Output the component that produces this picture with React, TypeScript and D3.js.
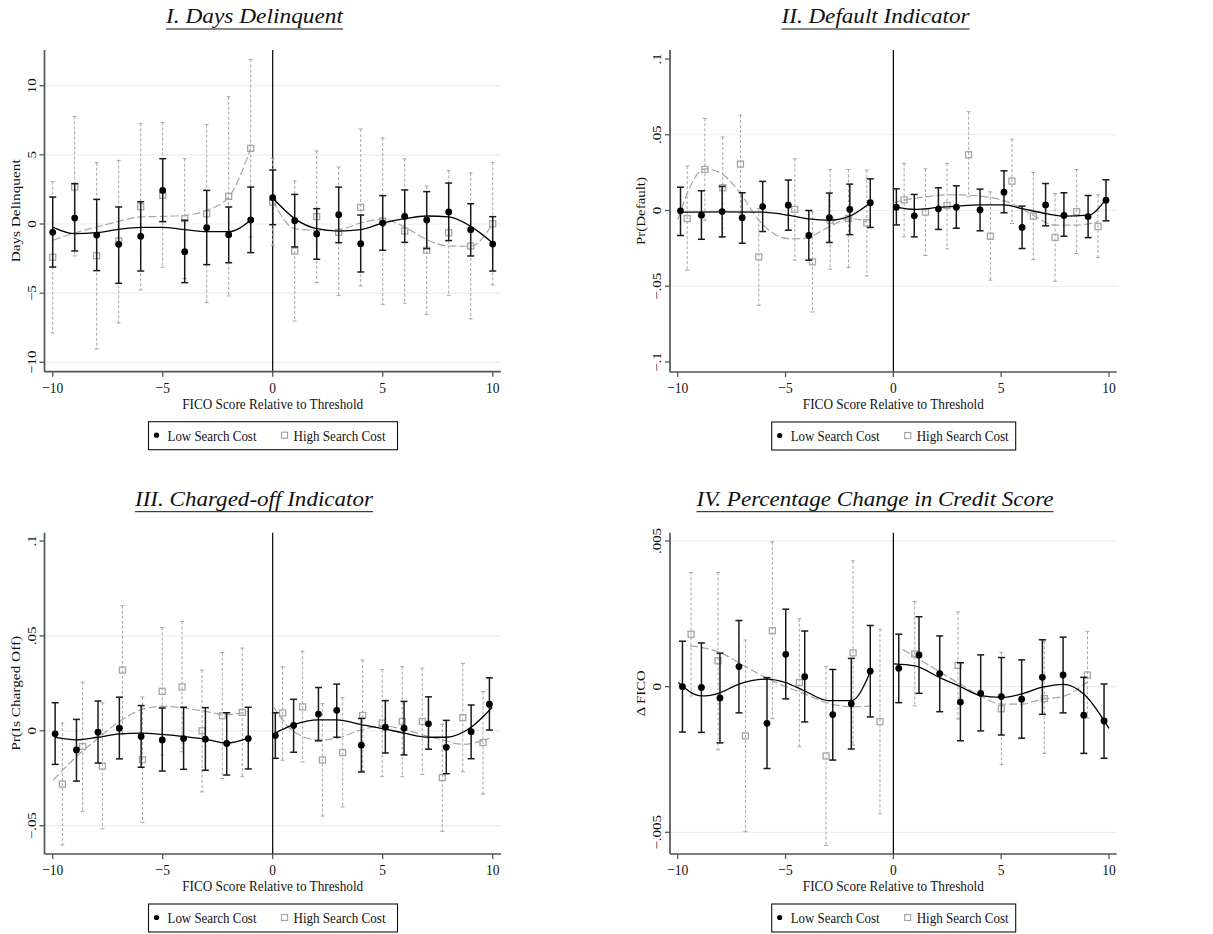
import React from "react";
import * as d3 from "d3";

type Pt = [number, number];

// ---------- shared ----------
const xTicks = [-10, -5, 0, 5, 10];
const xTickLabels = ["\u221210", "\u22125", "0", "5", "10"];
const legendLabels = ["Low Search Cost", "High Search Cost"];

// ---------- Panel I: Days Delinquent ----------
const p1Ticks = [-10, -5, 0, 5, 10];
const p1TickLabels = ["\u221210", "\u22125", "0", "5", "10"];
const p1Grid = [-10, -5, 0, 5, 10];
const p1LowX = [-10, -9, -8, -7, -6, -5, -4, -3, -2, -1, 0, 1, 2, 3, 4, 5, 6, 7, 8, 9, 10];
const p1LowY = [-0.6, 0.43, -0.8, -1.47, -0.89, 2.43, -2.0, -0.27, -0.77, 0.29, 1.9, 0.24, -0.72, 0.67, -1.42, 0.07, 0.55, 0.29, 0.87, -0.41, -1.45];
const p1LowHi = [1.95, 2.92, 1.78, 1.23, 1.61, 4.72, 0.27, 2.43, 1.23, 2.67, 3.9, 2.14, 1.11, 2.67, 0.65, 2.05, 2.46, 2.34, 2.96, 1.47, 0.53];
const p1LowLo = [-3.11, -1.95, -3.37, -4.29, -3.4, 0.17, -4.24, -2.94, -2.8, -2.07, -0.05, -1.66, -2.55, -1.35, -3.47, -1.9, -1.33, -1.78, -1.2, -2.31, -3.4];
const p1HighX = [-10, -9, -8, -7, -6, -5, -4, -3, -2, -1, 0, 1, 2, 3, 4, 5, 6, 7, 8, 9, 10];
const p1HighY = [-2.41, 2.67, -2.29, -1.23, 1.25, 2.07, 0.39, 0.75, 2.0, 5.47, 1.59, -1.95, 0.53, -0.6, 1.2, 0.22, -0.51, -1.9, -0.63, -1.59, 0.02];
const p1HighHi = [3.06, 7.78, 4.43, 4.6, 7.28, 7.33, 4.72, 7.18, 9.2, 11.9, 4.75, 3.11, 5.28, 4.12, 6.87, 6.22, 4.72, 2.75, 3.86, 3.69, 4.46];
const p1HighLo = [-7.88, -2.31, -9.04, -7.16, -4.77, -3.13, -3.95, -5.69, -5.2, -0.94, -1.54, -7.01, -4.24, -5.18, -4.48, -5.81, -5.73, -6.55, -5.16, -6.87, -4.41];
const p1LowFitL: Pt[] = [[-10, -0.22], [-9, -0.7], [-8, -0.63], [-7, -0.39], [-6, -0.24], [-5, -0.24], [-4, -0.41], [-3, -0.55], [-2, -0.55], [-1, 0.27]];
const p1LowFitR: Pt[] = [[0, 1.88], [1, 0.39], [2, -0.34], [3, -0.51], [4, -0.41], [5, 0.07], [6, 0.39], [7, 0.58], [8, 0.51], [9, -0.17], [10, -1.37]];
const p1HighFitL: Pt[] = [[-10, -1.18], [-9, -0.65], [-8, -0.22], [-7, 0.19], [-6, 0.51], [-5, 0.55], [-4, 0.63], [-3, 0.99], [-2, 1.95], [-1, 5.45]];
const p1HighFitR: Pt[] = [[0, 1.71], [1, -0.34], [2, -0.46], [3, -0.41], [4, 0.07], [5, 0.36], [6, -0.22], [7, -1.13], [8, -1.59], [9, -1.61], [10, 0.02]];

// ---------- Panel II: Default Indicator ----------
const p2Ticks = [-0.1, -0.05, 0, 0.05, 0.1];
const p2TickLabels = ["\u2212.1", "\u2212.05", "0", ".05", ".1"];
const p2Grid = [-0.05, 0, 0.05];
const p2LowX = [-9.87, -8.9, -7.94, -7.01, -6.06, -4.87, -3.92, -2.97, -2.02, -1.07, 0.14, 0.97, 2.09, 2.92, 4.02, 5.13, 5.97, 7.06, 7.91, 9.03, 9.86];
const p2LowY = [-0.0002, -0.0031, -0.0007, -0.0048, 0.0026, 0.0035, -0.0165, -0.0048, 0.0007, 0.0051, 0.0022, -0.0035, 0.0011, 0.0022, 0.0004, 0.0121, -0.0112, 0.0037, -0.0033, -0.004, 0.0068];
const p2LowHi = [0.0154, 0.013, 0.0159, 0.0117, 0.0192, 0.0201, 0.0, 0.0115, 0.0174, 0.0209, 0.0143, 0.0106, 0.015, 0.0163, 0.0141, 0.0262, 0.0029, 0.0178, 0.0117, 0.0099, 0.0203];
const p2LowLo = [-0.0165, -0.019, -0.0174, -0.0216, -0.0139, -0.013, -0.0328, -0.0211, -0.0159, -0.0112, -0.0095, -0.0174, -0.0125, -0.0117, -0.0134, -0.0015, -0.0251, -0.0101, -0.017, -0.0179, -0.0068];
const p2HighX = [-9.56, -8.74, -7.91, -7.09, -6.24, -4.57, -3.75, -2.93, -2.08, -1.23, 0.5, 1.49, 2.49, 3.49, 4.5, 5.5, 6.49, 7.5, 8.5, 9.49];
const p2HighY = [-0.0053, 0.0271, 0.015, 0.0306, -0.0306, 0.0007, -0.0339, -0.0064, -0.0053, -0.0081, 0.007, -0.0011, 0.0033, 0.0368, -0.017, 0.0194, -0.0037, -0.0178, -0.0007, -0.0106];
const p2HighHi = [0.0293, 0.0608, 0.0485, 0.063, 0.0013, 0.0341, -0.0009, 0.0271, 0.0271, 0.0267, 0.0311, 0.0275, 0.0311, 0.0652, 0.0123, 0.0471, 0.0251, 0.0112, 0.0271, 0.0103];
const p2HighLo = [-0.0394, -0.0064, -0.0178, -0.0018, -0.0626, -0.0328, -0.067, -0.0388, -0.0377, -0.0432, -0.0174, -0.0297, -0.0253, 0.009, -0.046, -0.0086, -0.0324, -0.0467, -0.0284, -0.0311];
const p2LowFitL: Pt[] = [[-9.88, -0.0011], [-7.94, -0.0009], [-6.06, -0.0011], [-4.87, -0.0031], [-3.93, -0.0055], [-2.97, -0.0064], [-2.02, -0.0037], [-1.07, 0.0051]];
const p2LowFitR: Pt[] = [[0.14, 0.0022], [0.97, 0.0007], [2.09, 0.002], [2.92, 0.0029], [4.02, 0.0037], [5.13, 0.0037], [5.97, 0.0013], [7.06, -0.002], [7.91, -0.0037], [9.03, -0.0031], [9.86, 0.0075]];
const p2HighFitL: Pt[] = [[-10.0, -0.0059], [-8.75, 0.0275], [-8.04, 0.0249], [-7.09, 0.0112], [-6.24, -0.0064], [-4.87, -0.0185], [-4.17, -0.0185], [-2.97, -0.0108], [-2.02, -0.0053], [-1.24, -0.0075]];
const p2HighFitR: Pt[] = [[0, 0.0051], [0.49, 0.0068], [1.48, 0.009], [2.49, 0.0104], [3.49, 0.0101], [4.5, 0.0086], [5.5, 0.0046], [6.49, -0.0031], [7.5, -0.0097], [8.5, -0.0097], [9.49, -0.0075]];

// ---------- Panel III: Charged-off Indicator ----------
const p3Ticks = [-0.05, 0, 0.05, 0.1];
const p3TickLabels = ["\u2212.05", "0", ".05", ".1"];
const p3Grid = [-0.05, 0, 0.05];
const p3LowX = [-9.89, -8.92, -7.94, -6.97, -5.98, -5.02, -4.05, -3.06, -2.09, -1.11, 0.12, 0.95, 2.08, 2.91, 4.03, 5.12, 5.97, 7.08, 7.89, 9.02, 9.85];
const p3LowY = [-0.0016, -0.0101, -0.0007, 0.0014, -0.003, -0.0048, -0.0041, -0.0044, -0.0067, -0.0041, -0.0025, 0.0028, 0.0088, 0.0108, -0.0076, 0.0019, 0.0014, 0.0037, -0.0087, -0.0005, 0.014];
const p3LowHi = [0.0148, 0.006, 0.0157, 0.0177, 0.0133, 0.012, 0.0124, 0.0122, 0.0095, 0.0124, 0.0095, 0.0166, 0.0228, 0.0246, 0.0065, 0.0159, 0.0155, 0.0179, 0.0055, 0.0136, 0.0279];
const p3LowLo = [-0.0177, -0.0265, -0.017, -0.0148, -0.0192, -0.0212, -0.0203, -0.0208, -0.0233, -0.0201, -0.0145, -0.0113, -0.0053, -0.0034, -0.0217, -0.0117, -0.0127, -0.0097, -0.0226, -0.0147, 0.0004];
const p3HighX = [-9.56, -8.64, -7.74, -6.83, -5.92, -5.02, -4.12, -3.21, -2.29, -1.38, 0.45, 1.36, 2.26, 3.18, 4.09, 4.98, 5.89, 6.8, 7.71, 8.64, 9.56];
const p3HighY = [-0.0281, -0.0083, -0.0186, 0.032, -0.0152, 0.0208, 0.0231, 0.0, 0.008, 0.0097, 0.0094, 0.0126, -0.0154, -0.0115, 0.0081, 0.0041, 0.0049, 0.0049, -0.0247, 0.0069, -0.0062];
const p3HighHi = [0.0041, 0.0256, 0.0147, 0.0659, 0.0178, 0.0544, 0.0576, 0.032, 0.0412, 0.0436, 0.0337, 0.0419, 0.0143, 0.0175, 0.0373, 0.0322, 0.0338, 0.033, 0.0035, 0.0355, 0.0207];
const p3HighLo = [-0.0601, -0.0424, -0.0516, -0.0019, -0.0482, -0.0127, -0.011, -0.0322, -0.0251, -0.0242, -0.0155, -0.0164, -0.0449, -0.0401, -0.021, -0.024, -0.0242, -0.023, -0.053, -0.0216, -0.0334];
const p3LowFitL: Pt[] = [[-9.89, -0.0035], [-8.92, -0.0048], [-7.94, -0.0034], [-6.97, -0.0016], [-5.98, -0.0012], [-5.02, -0.0019], [-4.05, -0.003], [-3.06, -0.0044], [-2.09, -0.0065], [-1.11, -0.0039]];
const p3LowFitR: Pt[] = [[0.12, -0.0012], [0.95, 0.0032], [2.08, 0.0058], [2.91, 0.0058], [4.03, 0.0032], [5.12, 0.0009], [5.97, -0.0012], [7.08, -0.0034], [7.89, -0.0034], [9.02, 0.0019], [9.98, 0.0124]];
const p3HighFitL: Pt[] = [[-9.98, -0.026], [-8.92, -0.0136], [-7.94, -0.0039], [-6.97, 0.0049], [-5.98, 0.0111], [-5.02, 0.0129], [-4.05, 0.012], [-3.06, 0.0102], [-2.09, 0.0085], [-1.11, 0.0102]];
const p3HighFitR: Pt[] = [[0.02, 0.0129], [0.95, -0.0004], [2.08, -0.0048], [2.91, -0.0039], [4.03, 0.0005], [4.98, 0.0027], [5.89, 0.0009], [6.8, -0.0021], [7.71, -0.0048], [8.64, -0.0071], [9.86, -0.0039]];

// ---------- Panel IV: Percentage Change in Credit Score ----------
const p4Ticks = [-0.005, 0, 0.005];
const p4TickLabels = ["\u2212.005", "0", ".005"];
const p4Grid = [-0.005, 0, 0.005];
const p4LowX = [-9.78, -8.9, -8.04, -7.16, -5.86, -4.99, -4.11, -2.81, -1.95, -1.07, 0.25, 1.19, 2.15, 3.11, 4.05, 5.01, 5.95, 6.91, 7.87, 8.83, 9.77];
const p4LowY = [0.0, -0.00003, -0.00039, 0.00069, -0.00126, 0.00111, 0.00034, -0.00096, -0.00059, 0.00053, 0.00063, 0.00109, 0.00045, -0.00053, -0.00023, -0.00034, -0.00043, 0.00032, 0.0004, -0.00098, -0.00118];
const p4LowHi = [0.00156, 0.0015, 0.00115, 0.00227, 0.00031, 0.00266, 0.00191, 0.00059, 0.00097, 0.0021, 0.0018, 0.0024, 0.00174, 0.00082, 0.00109, 0.001, 0.00092, 0.00161, 0.0017, 0.00032, 0.00009];
const p4LowLo = [-0.00156, -0.00157, -0.00193, -0.0009, -0.00281, -0.00042, -0.00121, -0.00252, -0.00214, -0.00104, -0.00055, -0.00023, -0.00086, -0.00186, -0.00152, -0.00166, -0.00177, -0.00095, -0.0009, -0.00229, -0.00246];
const p4HighX = [-9.38, -8.13, -6.86, -5.61, -4.36, -3.12, -1.87, -0.62, 0.99, 3.0, 5.01, 7.0, 9.0];
const p4HighY = [0.0018, 0.00089, -0.00169, 0.00192, 0.00014, -0.00238, 0.00116, -0.0012, 0.00112, 0.00073, -0.00076, -0.00041, 0.0004];
const p4HighHi = [0.00392, 0.00392, 0.0016, 0.00497, 0.00233, 0.00069, 0.00432, 0.00197, 0.00292, 0.00257, 0.00118, 0.00156, 0.0019];
const p4HighLo = [-0.00032, -0.00217, -0.00498, -0.0011, -0.00206, -0.00545, -0.002, -0.00437, -0.00066, -0.00111, -0.00268, -0.00229, -0.00108];
const p4LowFitL: Pt[] = [[-9.97, 0.00014], [-8.9, -0.00032], [-8.04, -0.00021], [-7.16, 0.00009], [-5.86, 0.00026], [-4.99, 0.00014], [-4.11, -0.00015], [-3.01, -0.00048], [-1.95, -0.00048], [-1.07, 0.0005]];
const p4LowFitR: Pt[] = [[0.03, 0.00078], [1.0, 0.00071], [2.15, 0.00031], [3.11, 0.0], [4.05, -0.00031], [5.01, -0.00037], [5.95, -0.00025], [6.91, -0.00002], [7.87, 0.00008], [8.83, -0.00025], [10.0, -0.00143]];
const p4HighFitL: Pt[] = [[-9.43, 0.0014], [-8.13, 0.0012], [-6.86, 0.00069], [-5.87, 0.00029], [-4.99, 0.0], [-4.11, -0.00025], [-3.01, -0.00057], [-1.95, -0.00069], [-1.0, -0.00066]];
const p4HighFitR: Pt[] = [[0.43, 0.00128], [0.99, 0.00103], [2.15, 0.00051], [3.11, 0.00008], [4.05, -0.00032], [5.01, -0.0006], [5.95, -0.0006], [6.91, -0.00043], [7.87, -0.00034], [9.0, 0.00017]];

const SERIF = "'Liberation Serif', 'Times New Roman', serif";
const GRAY = "#a6a6a6";
const STRETCH = 1.15; // the reference is drawn slightly stretched vertically

interface PanelCfg {
  title: string;
  titleW: number;
  titleCx: number;
  yLabel: string;
  yLabelW: number;
  l: number; r: number; t: number; b: number;
  xr: [number, number];
  yd: [number, number];
  yr: [number, number];
  yTicks: number[];
  yTickLabels: string[];
  grid: number[];
  legendW: number;
  legendCx: number;
  lowX: number[]; lowY: number[]; lowHi: number[]; lowLo: number[];
  highX: number[]; highY: number[]; highHi: number[]; highLo: number[];
  lowFits: Pt[][]; highFits: Pt[][];
}

const panels: PanelCfg[] = [
  {
    title: "I. Days Delinquent", titleW: 177, titleCx: 254.5,
    yLabel: "Days Delinquent", yLabelW: 103,
    l: 44.5, r: 501, t: 50, b: 371.7, xr: [52.7, 492.7], yd: [-10, 10], yr: [362.3, 85.7],
    yTicks: p1Ticks, yTickLabels: p1TickLabels, grid: p1Grid, legendW: 249, legendCx: 273,
    lowX: p1LowX, lowY: p1LowY, lowHi: p1LowHi, lowLo: p1LowLo,
    highX: p1HighX, highY: p1HighY, highHi: p1HighHi, highLo: p1HighLo,
    lowFits: [p1LowFitL, p1LowFitR], highFits: [p1HighFitL, p1HighFitR],
  },
  {
    title: "II. Default Indicator", titleW: 188, titleCx: 875.5,
    yLabel: "Pr(Default)", yLabelW: 68,
    l: 670, r: 1116.7, t: 50, b: 372, xr: [677.7, 1109], yd: [-0.1, 0.1], yr: [362, 59],
    yTicks: p2Ticks, yTickLabels: p2TickLabels, grid: p2Grid, legendW: 244, legendCx: 893.7,
    lowX: p2LowX, lowY: p2LowY, lowHi: p2LowHi, lowLo: p2LowLo,
    highX: p2HighX, highY: p2HighY, highHi: p2HighHi, highLo: p2HighLo,
    lowFits: [p2LowFitL, p2LowFitR], highFits: [p2HighFitL, p2HighFitR],
  },
  {
    title: "III. Charged-off Indicator", titleW: 238, titleCx: 254,
    yLabel: "Pr(Is Charged Off)", yLabelW: 115,
    l: 44.5, r: 501, t: 532.7, b: 854, xr: [52.7, 492.7], yd: [-0.05, 0.1], yr: [825.7, 541],
    yTicks: p3Ticks, yTickLabels: p3TickLabels, grid: p3Grid, legendW: 249, legendCx: 273,
    lowX: p3LowX, lowY: p3LowY, lowHi: p3LowHi, lowLo: p3LowLo,
    highX: p3HighX, highY: p3HighY, highHi: p3HighHi, highLo: p3HighLo,
    lowFits: [p3LowFitL, p3LowFitR], highFits: [p3HighFitL, p3HighFitR],
  },
  {
    title: "IV. Percentage Change in Credit Score", titleW: 357, titleCx: 875,
    yLabel: "\u0394 FICO", yLabelW: 46,
    l: 670, r: 1116.7, t: 532.7, b: 854, xr: [677.7, 1109], yd: [-0.005, 0.005], yr: [832.3, 541],
    yTicks: p4Ticks, yTickLabels: p4TickLabels, grid: p4Grid, legendW: 244, legendCx: 893.7,
    lowX: p4LowX, lowY: p4LowY, lowHi: p4LowHi, lowLo: p4LowLo,
    highX: p4HighX, highY: p4HighY, highHi: p4HighHi, highLo: p4HighLo,
    lowFits: [p4LowFitL, p4LowFitR], highFits: [p4HighFitL, p4HighFitR],
  },
];

function Panel({ c }: { c: PanelCfg }) {
  const x = d3.scaleLinear().domain([-10, 10]).range(c.xr);
  const y = d3.scaleLinear().domain(c.yd).range(c.yr);
  const line = d3
    .line<Pt>()
    .x((d) => x(d[0]))
    .y((d) => y(d[1]))
    .curve(d3.curveMonotoneX);
  const axisColor = "#555";
  const lgX = c.legendCx - c.legendW / 2;
  const lgY = c.b + 50;
  return (
    <g>
      {/* title */}
      <text
        x={c.titleCx}
        y={c.t - 27}
        textAnchor="middle"
        fontFamily={SERIF}
        fontStyle="italic"
        fontSize={21}
        textLength={c.titleW}
        lengthAdjust="spacingAndGlyphs"
        fill="#111"
      >
        {c.title}
      </text>
      <line x1={c.titleCx - c.titleW / 2} x2={c.titleCx + c.titleW / 2} y1={c.t - 21} y2={c.t - 21} stroke="#111" strokeWidth={1} />

      {/* gridlines */}
      {c.grid.map((g) => (
        <line key={"g" + g} x1={c.l} x2={c.r} y1={y(g)} y2={y(g)} stroke="#e6eff1" strokeWidth={1.2} />
      ))}

      {/* threshold line */}
      <line x1={x(0)} x2={x(0)} y1={c.t} y2={c.b} stroke="#000" strokeWidth={1.2} />

      {/* high search cost error bars */}
      {c.highX.map((hx, i) => (
        <g key={"he" + i} stroke={GRAY} strokeWidth={1} fill="none">
          <line x1={x(hx)} x2={x(hx)} y1={y(c.highHi[i])} y2={y(c.highLo[i])} strokeDasharray="3,2" />
          <line x1={x(hx) - 2} x2={x(hx) + 2} y1={y(c.highHi[i])} y2={y(c.highHi[i])} />
          <line x1={x(hx) - 2} x2={x(hx) + 2} y1={y(c.highLo[i])} y2={y(c.highLo[i])} />
        </g>
      ))}
      {/* high fits */}
      {c.highFits.map((f, i) => (
        <path key={"hf" + i} d={line(f) || ""} fill="none" stroke={GRAY} strokeWidth={1.2} strokeDasharray="8,3" />
      ))}
      {/* high markers */}
      {c.highX.map((hx, i) => (
        <rect key={"hm" + i} x={x(hx) - 3} y={y(c.highY[i]) - 3} width={6} height={6} fill="none" stroke={GRAY} strokeWidth={1.3} />
      ))}

      {/* low error bars */}
      {c.lowX.map((lx, i) => (
        <g key={"le" + i} stroke="#1a1a1a" strokeWidth={1.5}>
          <line x1={x(lx)} x2={x(lx)} y1={y(c.lowHi[i])} y2={y(c.lowLo[i])} />
          <line x1={x(lx) - 3.5} x2={x(lx) + 3.5} y1={y(c.lowHi[i])} y2={y(c.lowHi[i])} />
          <line x1={x(lx) - 3.5} x2={x(lx) + 3.5} y1={y(c.lowLo[i])} y2={y(c.lowLo[i])} />
        </g>
      ))}
      {/* low fits */}
      {c.lowFits.map((f, i) => (
        <path key={"lf" + i} d={line(f) || ""} fill="none" stroke="#000" strokeWidth={1.3} />
      ))}
      {/* low markers */}
      {c.lowX.map((lx, i) => (
        <circle key={"lm" + i} cx={x(lx)} cy={y(c.lowY[i])} r={3.4} fill="#000" />
      ))}

      {/* axes */}
      <line x1={c.l} x2={c.l} y1={c.t} y2={c.b} stroke={axisColor} strokeWidth={1.7} />
      <line x1={c.l} x2={c.r} y1={c.b} y2={c.b} stroke={axisColor} strokeWidth={1.7} />
      {c.yTicks.map((v, i) => (
        <g key={"yt" + i}>
          <line x1={c.l - 5} x2={c.l} y1={y(v)} y2={y(v)} stroke={axisColor} strokeWidth={1.3} />
          <text
            transform={`translate(${c.l - 9},${y(v)}) rotate(-90) scale(${STRETCH},1)`}
            textAnchor="middle"
            fontFamily={SERIF}
            fontSize={13}
            fill="#111"
          >
            {c.yTickLabels[i]}
          </text>
        </g>
      ))}
      {xTicks.map((v, i) => (
        <g key={"xt" + i}>
          <line x1={x(v)} x2={x(v)} y1={c.b} y2={c.b + 5} stroke={axisColor} strokeWidth={1.3} />
          <text
            transform={`translate(${x(v)},${c.b + 20.8}) scale(1,${STRETCH})`}
            textAnchor="middle"
            fontFamily={SERIF}
            fontSize={13.5}
            fill="#111"
          >
            {xTickLabels[i]}
          </text>
        </g>
      ))}
      <text
        x={x(0)}
        y={c.b + 36.8}
        textAnchor="middle"
        fontFamily={SERIF}
        fontSize={14}
        textLength={181}
        lengthAdjust="spacingAndGlyphs"
        fill="#111"
      >
        FICO Score Relative to Threshold
      </text>
      <text
        transform={`translate(${c.l - 25},${(c.t + c.b) / 2}) rotate(-90)`}
        textAnchor="middle"
        fontFamily={SERIF}
        fontSize={13}
        textLength={c.yLabelW}
        lengthAdjust="spacingAndGlyphs"
        fill="#111"
      >
        {c.yLabel}
      </text>

      {/* legend */}
      <rect x={lgX} y={lgY} width={c.legendW} height={28} fill="#fff" stroke="#111" strokeWidth={1.1} />
      <circle cx={lgX + 8} cy={lgY + 13.5} r={2.6} fill="#000" />
      <text x={lgX + 19} y={lgY + 19.3} fontFamily={SERIF} fontSize={14} textLength={89} lengthAdjust="spacingAndGlyphs" fill="#111">
        {legendLabels[0]}
      </text>
      <rect x={lgX + 133} y={lgY + 10.5} width={6} height={6} fill="none" stroke={GRAY} strokeWidth={1.2} />
      <text x={lgX + 145} y={lgY + 19.3} fontFamily={SERIF} fontSize={14} textLength={92} lengthAdjust="spacingAndGlyphs" fill="#111">
        {legendLabels[1]}
      </text>
    </g>
  );
}

export default function App() {
  return (
    <div style={{ position: "absolute", left: 0, top: 0 }}>
      <svg width={1213} height={934} viewBox="0 0 1213 934" style={{ display: "block", background: "#fff" }}>
        <rect x={0} y={0} width={1213} height={934} fill="#fff" />
        {panels.map((p, i) => (
          <Panel key={i} c={p} />
        ))}
      </svg>
    </div>
  );
}
